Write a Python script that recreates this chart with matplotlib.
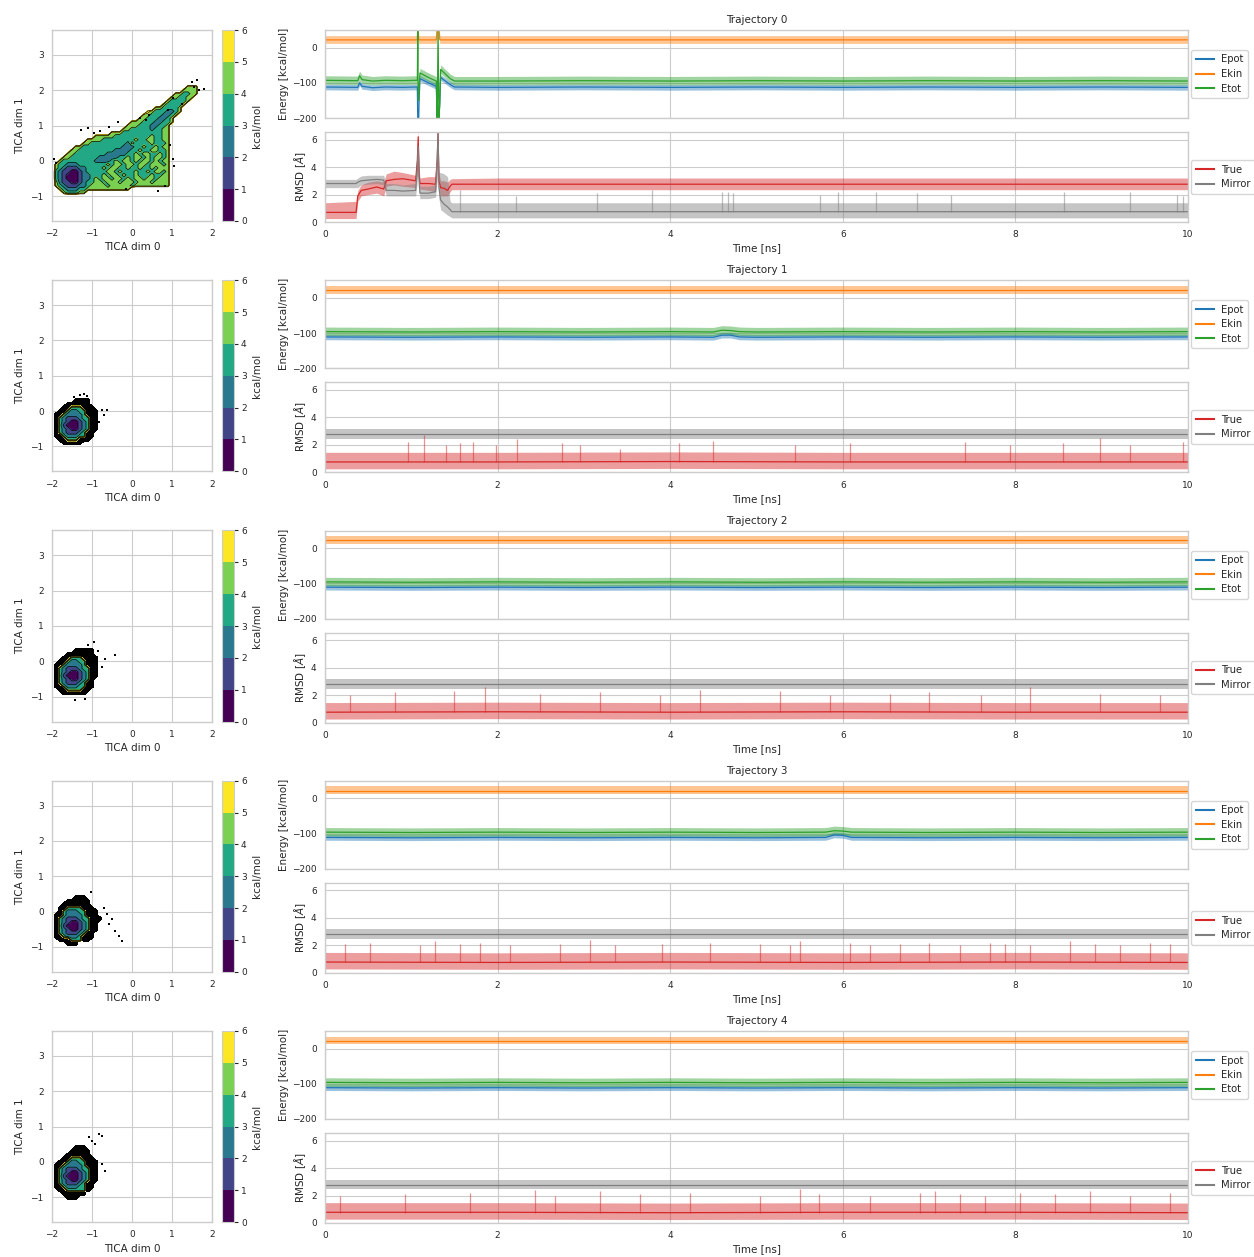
import numpy as np
import matplotlib
matplotlib.use("Agg")
import matplotlib.pyplot as plt
from matplotlib.lines import Line2D

# ============================ DATA ============================
TRAJ_TITLES = ["Trajectory 0", "Trajectory 1", "Trajectory 2", "Trajectory 3", "Trajectory 4"]
ENERGY_NAMES = ["Epot", "Ekin", "Etot"]
RMSD_NAMES = ["True", "Mirror"]
TIME_TICKS = [0, 2, 4, 6, 8, 10]
ENERGY_TICKS = [-200, -100, 0]
RMSD_TICKS = [0, 2, 4, 6]
TICA_XTICKS = [-2, -1, 0, 1, 2]
TICA_YTICKS = [-1, 0, 1, 2, 3]
FE_LEVELS = [0, 1, 2, 3, 4, 5, 6]

# envelope of the raw (light) trace around the smoothed curve
EPOT_BAND = (-8, 8)
EKIN_BAND = (-10, 12)
ETOT_BAND = (-11, 13)
TRUE_BAND = (-0.5, 0.7)
MIRROR_BAND = (-0.35, 0.35)

# ---- Trajectory 0 energies ----
T0_ET = [0, 0.38, 0.40, 0.43, 0.55, 0.7, 0.9, 1.05, 1.07, 1.075, 1.08, 1.085, 1.09, 1.10, 1.2, 1.27,
         1.29, 1.30, 1.31, 1.32, 1.33, 1.34, 1.45, 1.5, 2, 3, 4, 5, 6, 7, 8, 9, 10]
T0_EPOT = [-112, -113, -100, -110, -114, -112, -113, -112, -112, -210, -210, -210, -150, -88, -100, -108,
           -110, -210, -210, -210, -150, -85, -105, -112, -113, -112, -113, -112, -113, -112, -113, -112, -113]
T0_EKIN = [22, 22, 22, 22, 22, 22, 22, 22, 22, 60, 60, 22, 22, 22, 22, 22,
           22, 60, 60, 60, 22, 22, 22, 22, 22, 22, 22, 22, 22, 22, 22, 22, 22]
T0_ETOT = [-93, -94, -80, -91, -95, -93, -94, -93, -93, 50, -150, -150, -120, -72, -85, -93,
           -95, -210, 50, -210, -150, -62, -88, -95, -95, -94, -95, -94, -95, -94, -95, -94, -95]

# ---- Trajectory 0 RMSD ----
T0_RT = [0, 0.36, 0.38, 0.42, 0.5, 0.6, 0.68, 0.71, 0.8, 0.9, 1.05, 1.07, 1.08, 1.09, 1.1, 1.2, 1.28,
         1.30, 1.31, 1.32, 1.34, 1.38, 1.42, 1.45, 1.47, 2, 3, 4, 5, 6, 7, 8, 9, 10]
T0_TRUE = [0.7, 0.7, 1.9, 2.3, 2.4, 2.55, 2.4, 3.0, 3.1, 3.15, 3.0, 4.5, 6.2, 3.5, 2.8, 2.8, 2.75,
           4.5, 6.5, 3.0, 2.5, 2.45, 2.3, 2.6, 2.75, 2.75, 2.75, 2.75, 2.75, 2.75, 2.75, 2.75, 2.75, 2.75]
T0_TRUE_LO = [0.25, 0.25, 1.5, 1.9, 2.0, 2.1, 1.9, 2.6, 2.7, 2.6, 2.5, 3.5, 5.5, 2.8, 2.4, 2.3, 2.2,
              3.5, 5.5, 2.3, 1.9, 1.9, 1.9, 2.2, 2.35, 2.35, 2.35, 2.35, 2.35, 2.35, 2.35, 2.35, 2.35, 2.35]
T0_TRUE_HI = [1.4, 1.5, 2.3, 2.7, 2.9, 3.0, 2.9, 3.5, 3.7, 3.6, 3.4, 5.5, 6.6, 4.0, 3.2, 3.3, 3.3,
              5.5, 6.6, 3.5, 3.0, 3.0, 2.9, 3.1, 3.15, 3.2, 3.2, 3.2, 3.2, 3.2, 3.2, 3.2, 3.2, 3.2]
T0_MIRROR = [2.8, 2.8, 2.9, 3.0, 3.05, 3.1, 3.05, 2.3, 2.3, 2.25, 2.3, 4.0, 5.5, 3.0, 2.1, 2.1, 2.2,
             4.5, 6.5, 2.5, 1.6, 1.3, 1.1, 0.9, 0.75, 0.75, 0.75, 0.75, 0.75, 0.75, 0.75, 0.75, 0.75, 0.75]
T0_MIRROR_LO = [2.5, 2.5, 2.5, 2.7, 2.75, 2.8, 2.7, 1.9, 1.9, 1.9, 1.9, 3.0, 4.5, 2.3, 1.7, 1.7, 1.8,
                3.0, 5.5, 1.7, 0.9, 0.7, 0.5, 0.4, 0.3, 0.3, 0.3, 0.3, 0.3, 0.3, 0.3, 0.3, 0.3, 0.3]
T0_MIRROR_HI = [3.1, 3.1, 3.2, 3.35, 3.4, 3.4, 3.4, 2.8, 2.8, 2.7, 2.8, 5.0, 5.8, 3.5, 2.6, 2.6, 2.7,
                5.5, 6.6, 3.6, 3.6, 3.5, 3.3, 1.5, 1.4, 1.4, 1.4, 1.4, 1.4, 1.4, 1.4, 1.4, 1.4, 1.4]
T0_MIRROR_SPIKE_T = [1.56, 2.21, 3.15, 3.79, 4.60, 4.67, 4.73, 5.74, 5.95, 6.39, 6.86, 7.25, 8.56, 9.33, 9.87, 9.94]
T0_MIRROR_SPIKE_H = [2.3, 1.9, 2.1, 2.3, 2.2, 2.2, 2.1, 2.0, 2.2, 2.2, 2.1, 2.0, 2.2, 2.2, 2.0, 1.9]
T0_MIRROR_SPIKE_BASE = 0.75

# ---- Trajectory 1 ----
T1_ET = [0, 1, 2, 3, 4, 4.5, 4.6, 4.7, 4.8, 5, 6, 7, 8, 9, 10]
T1_EPOT = [-111, -112, -111, -112, -111, -112, -106, -106, -111, -112, -111, -112, -111, -112, -111]
T1_EKIN = [22, 22, 22, 22, 22, 22, 22, 22, 22, 22, 22, 22, 22, 22, 22]
T1_ETOT = [-96, -97, -96, -97, -96, -97, -92, -93, -96, -97, -96, -97, -96, -97, -96]
T1_RT = [0, 2, 4, 6, 8, 10]
T1_TRUE = [0.75, 0.75, 0.78, 0.75, 0.75, 0.75]
T1_MIRROR = [2.8, 2.8, 2.8, 2.8, 2.8, 2.8]
T1_SPIKE_T = [0.96, 1.15, 1.40, 1.56, 1.71, 1.98, 2.23, 2.75, 2.96, 3.42, 4.10, 4.50, 5.45, 6.08, 7.42, 7.94, 8.55, 8.98, 9.33, 9.94]
T1_SPIKE_H = [2.2, 2.7, 2.0, 2.1, 2.2, 2.0, 2.4, 2.1, 2.0, 1.7, 2.1, 2.3, 2.0, 2.1, 2.2, 2.0, 2.1, 2.5, 2.0, 2.2]

# ---- Trajectory 2 ----
T2_ET = [0, 1, 2, 3, 4, 5, 6, 7, 8, 9, 10]
T2_EPOT = [-111, -112, -111, -112, -111, -112, -111, -112, -111, -112, -111]
T2_EKIN = [22, 22, 22, 22, 22, 22, 22, 22, 22, 22, 22]
T2_ETOT = [-96, -97, -96, -97, -96, -97, -96, -97, -96, -97, -96]
T2_RT = [0, 2, 4, 6, 8, 10]
T2_TRUE = [0.75, 0.78, 0.75, 0.78, 0.75, 0.75]
T2_MIRROR = [2.8, 2.8, 2.8, 2.8, 2.8, 2.8]
T2_SPIKE_T = [0.29, 0.81, 1.50, 1.85, 2.49, 3.19, 3.88, 4.35, 5.27, 5.85, 6.55, 7.00, 7.60, 8.17, 8.98, 9.68]
T2_SPIKE_H = [2.0, 2.2, 2.3, 2.6, 2.1, 2.2, 2.0, 2.4, 2.3, 2.0, 2.1, 2.2, 2.0, 2.6, 2.1, 2.0]

# ---- Trajectory 3 ----
T3_ET = [0, 1, 2, 3, 4, 5, 5.8, 5.9, 6.0, 6.1, 7, 8, 9, 10]
T3_EPOT = [-111, -112, -111, -112, -111, -112, -111, -104, -105, -111, -112, -111, -112, -111]
T3_EKIN = [22, 22, 22, 22, 22, 22, 22, 22, 22, 22, 22, 22, 22, 22]
T3_ETOT = [-96, -97, -96, -97, -96, -97, -96, -92, -93, -96, -97, -96, -97, -96]
T3_RT = [0, 2, 4, 6, 8, 10]
T3_TRUE = [0.78, 0.75, 0.78, 0.75, 0.78, 0.75]
T3_MIRROR = [2.8, 2.8, 2.8, 2.8, 2.8, 2.8]
T3_SPIKE_T = [0.23, 0.52, 1.10, 1.27, 1.56, 1.80, 2.14, 2.72, 3.07, 3.36, 3.90, 4.46, 5.04, 5.39, 5.50, 6.08,
              6.31, 6.66, 7.00, 7.36, 7.70, 7.88, 8.17, 8.63, 8.92, 9.21, 9.56, 9.79]
T3_SPIKE_H = [2.1, 2.2, 2.0, 2.3, 2.1, 2.2, 2.0, 2.1, 2.4, 2.0, 2.1, 2.2, 2.1, 2.0, 2.3, 2.2,
              2.0, 2.1, 2.2, 2.0, 2.2, 2.1, 2.0, 2.3, 2.1, 2.0, 2.2, 2.1]

# ---- Trajectory 4 ----
T4_ET = [0, 1, 2, 3, 4, 5, 6, 7, 8, 9, 10]
T4_EPOT = [-111, -112, -111, -112, -111, -112, -111, -112, -111, -112, -111]
T4_EKIN = [22, 22, 22, 22, 22, 22, 22, 22, 22, 22, 22]
T4_ETOT = [-96, -97, -96, -97, -96, -97, -96, -97, -96, -97, -96]
T4_RT = [0, 2, 4, 6, 8, 10]
T4_TRUE = [0.78, 0.78, 0.75, 0.78, 0.78, 0.75]
T4_MIRROR = [2.8, 2.8, 2.8, 2.8, 2.8, 2.8]
T4_SPIKE_T = [0.17, 0.93, 1.68, 2.43, 2.66, 3.19, 3.65, 4.23, 5.04, 5.50, 5.73, 6.31, 6.90, 7.07, 7.36,
              7.65, 8.05, 8.46, 8.86, 9.33, 9.79]
T4_SPIKE_H = [2.0, 2.1, 2.2, 2.4, 2.0, 2.3, 2.1, 2.2, 2.0, 2.5, 2.1, 2.0, 2.2, 2.3, 2.1,
              2.0, 2.2, 2.1, 2.3, 2.0, 2.2]

# ---- Free-energy maps (TICA), 0.1 grid; digit = kcal/mol bin, '#' = dense noisy points ----
FE0_X0, FE0_YTOP = -2.0, 2.2
FE0_ROWS = [  # (first column, bins) from y=2.2 down to y=-1.0
    (0, ""), (34, "444"), (33, "4444"), (31, "443344"), (30, "443344"), (29, "433334"),
    (28, "433334"), (26, "4433334"), (24, "543332234"), (23, "443332234"), (22, "443332234"),
    (20, "44433322334"), (19, "44433322334"), (18, "443333323344"), (15, "444333333333344"),
    (11, "4444433333333343344"), (9, "444433333333433443344"), (8, "4433333333324333343334"),
    (6, "443333333333222334334344"), (5, "4433333333322223343344334"),
    (4, "44333333332222233434433434"), (3, "443333333222223343443434434"),
    (2, "4333333332222343443434434344"), (1, "43322233333334344344344344434"),
    (1, "43211122333343443343343343444"), (1, "32110012333334434333433434434"),
    (1, "32100012233343443433433343344"), (1, "32100012234344344343443443444"),
    (1, "42110012334434443444344434444"), (1, "43211122344443444443444444444"),
    (2, "432223344444444444"), (3, "433344"), (0, ""),
]
# isolated sampled points outside the contoured region
FE0_DOTS_X = [1.50, 1.68, 1.80, 1.62, 1.02, 0.89, 0.43, 0.20, -0.36, -0.57, -1.28, -1.11, -0.95,
              -1.94, -1.90, 1.02, 1.06, 0.82, 0.64, -0.15, 0.35, 1.25, 1.55, -0.80, 0.95]
FE0_DOTS_Y = [2.22, 2.00, 2.02, 2.30, 1.77, 1.44, 1.30, 1.20, 1.11, 0.97, 0.88, 0.93, 0.80,
              0.04, -0.06, 0.04, -0.15, -0.71, -0.85, -0.80, 1.15, 1.62, 2.08, 0.85, 0.45]
FE_SMALL_X0, FE_SMALL_YTOP = -2.0, 0.4
FE1_ROWS = [
    ".............", "......####...", "....######...", "...##333###..", "..##32233###.",
    ".##322223###.", ".#32111233##.", ".#32100123##.", ".#31000123##.", ".#32100123##.",
    ".#3211123##..", ".##322233##..", "..##333###...", "...#####.....", ".............",
]
FE1_DOTS_X = [-1.30, -1.20, -1.12, -0.75, -0.71, -0.62, -0.83, -1.45]
FE1_DOTS_Y = [0.45, 0.48, 0.42, 0.03, -0.11, 0.03, -0.30, 0.40]
FE2_ROWS = [
    ".............", "......#####..", "....#######..", "...##333####.", "..##32233###.",
    ".##322223###.", ".#32111233##.", ".#32100123##.", ".#31000123##.", ".#32100123#..",
    ".#3211123##..", ".##322233##..", "..##3333##...", "...######....", ".............",
]
FE2_DOTS_X = [-0.96, -0.42, -0.67, -0.75, -1.42, -1.17, -1.10, -0.85]
FE2_DOTS_Y = [0.55, 0.17, 0.08, -0.16, -1.10, -1.06, 0.45, 0.30]
FE3_ROWS = [
    "......###....", "....######...", "...#######...", "..##3333###..", "..#322233###.",
    ".##322223###.", ".#32111233###", ".#32100123##.", ".#31000123##.", ".#32100123##.",
    ".#3211123##..", ".##32223###..", "..###333##...", "....###......", ".............",
]
FE3_DOTS_X = [-1.02, -0.62, -0.50, -0.42, -0.33, -0.25, -0.70, -0.58]
FE3_DOTS_Y = [0.55, -0.07, -0.21, -0.54, -0.68, -0.82, 0.10, -0.35]
FE4_ROWS = [
    "......###....", ".....#####...", "....######...", "...##333###..", "..##32233###.",
    ".##322223###.", ".#32111233##.", ".#32100123##.", ".#31000123##.", ".#32100123##.",
    ".#3211123##..", ".##322233##..", "..##33333#...", "...######....", "....###......",
]
FE4_DOTS_X = [-0.75, -0.83, -1.00, -0.67, -0.75, -0.92, -1.08]
FE4_DOTS_Y = [0.74, 0.78, 0.60, -0.25, -0.07, 0.50, 0.70]

# ============================ STYLE ============================
W, H = 1254, 1257
TXT = "#262626"
GRID = "#cccccc"
plt.rcParams.update({
    "font.family": ["DejaVu Sans"],
    "font.size": 7.5,
    "text.color": TXT,
    "axes.labelcolor": TXT,
    "xtick.color": TXT,
    "ytick.color": TXT,
    "axes.edgecolor": GRID,
    "axes.linewidth": 1.0,
    "grid.color": GRID,
    "grid.linewidth": 0.8,
    "xtick.major.size": 0,
    "ytick.major.size": 0,
    "xtick.major.pad": 6.0,
    "ytick.major.pad": 6.0,
    "xtick.labelsize": 6.5,
    "ytick.labelsize": 6.5,
    "axes.labelsize": 7.5,
    "axes.titlesize": 7.5,
    "legend.fontsize": 7.2,
    "mathtext.fontset": "dejavusans",
})

COL = {"Epot": "#1f77b4", "Ekin": "#ff7f0e", "Etot": "#2ca02c", "True": "#d62728", "Mirror": "#7f7f7f"}

fig = plt.figure(figsize=(W / 100, H / 100), dpi=100)
ROW_DY = 250.25
FE_NORM = plt.Normalize(0.5, 5.5)
STEP = 0.1


def rect(l, t, r, b):
    return [l / W, 1 - b / H, (r - l) / W, (b - t) / H]


def style(ax):
    ax.set_axisbelow(True)
    ax.grid(True)
    for s in ax.spines.values():
        s.set_color(GRID)


def build_fe(rows, x0, ytop, gx0, gx1, gy0, gy1):
    nx = int(round((gx1 - gx0) / STEP)) + 1
    ny = int(round((gy1 - gy0) / STEP)) + 1
    xs = gx0 + STEP * np.arange(nx)
    ys = gy1 - STEP * np.arange(ny)
    Z = np.full((ny, nx), 9.0)
    B = np.zeros((ny, nx))
    for i, r in enumerate(rows):
        s = "." * r[0] + r[1] if isinstance(r, tuple) else r
        iy = int(round((gy1 - (ytop - STEP * i)) / STEP))
        for j, c in enumerate(s):
            jx = int(round((x0 + STEP * j - gx0) / STEP))
            if c.isdigit():
                Z[iy, jx] = int(c) + 0.5
            elif c == "#":
                B[iy, jx] = 1.0
    return xs, ys, Z, B


def draw_fe(ax, cax, grid, dots_x, dots_y):
    xs, ys, Z, B = grid
    X, Y = np.meshgrid(xs, ys)
    if B.any():
        ax.contourf(X, Y, B, levels=[0.5, 1.5], colors="k", zorder=1)
    cs = ax.contourf(X, Y, Z, levels=FE_LEVELS, cmap="viridis", norm=FE_NORM, zorder=2)
    ax.contour(X, Y, Z, levels=FE_LEVELS, colors="k", linewidths=0.5, zorder=3)
    ax.scatter(dots_x, dots_y, s=1.6, c="k", marker="s", linewidths=0, zorder=3)
    ax.set_xlim(-2, 2)
    ax.set_ylim(-1.7, 3.7)
    ax.set_xticks(TICA_XTICKS)
    ax.set_yticks(TICA_YTICKS)
    ax.set_xlabel("TICA dim 0", labelpad=3)
    ax.set_ylabel("TICA dim 1", labelpad=4)
    cb = fig.colorbar(cs, cax=cax, ticks=FE_LEVELS)
    cb.outline.set_edgecolor(GRID)
    cb.outline.set_linewidth(0.8)
    cax.tick_params(length=3, width=0.8, pad=2, color=TXT, labelsize=6.5)
    cb.set_label("kcal/mol", labelpad=4)


def band_series(ax, t, v, color, band=None, lo=None, hi=None):
    v = np.asarray(v, float)
    lo_v = v + band[0] if lo is None else np.asarray(lo, float)
    hi_v = v + band[1] if hi is None else np.asarray(hi, float)
    ax.fill_between(t, lo_v, hi_v, color=color, alpha=0.45, linewidth=0)
    ax.plot(t, v, color=color, lw=0.9)


def make_legend(ax, names):
    ax.legend([Line2D([], [], color=COL[n], lw=1.5) for n in names], names,
              loc="center left", bbox_to_anchor=(1.004, 0.5), borderaxespad=0,
              frameon=True, edgecolor=GRID, handlelength=1.8, handletextpad=0.7,
              labelspacing=0.45, borderpad=0.45)


FE_PANELS = [
    (build_fe(FE0_ROWS, FE0_X0, FE0_YTOP, -2.0, 2.0, -1.2, 2.4), FE0_DOTS_X, FE0_DOTS_Y),
    (build_fe(FE1_ROWS, FE_SMALL_X0, FE_SMALL_YTOP, -2.0, 0.0, -1.3, 0.9), FE1_DOTS_X, FE1_DOTS_Y),
    (build_fe(FE2_ROWS, FE_SMALL_X0, FE_SMALL_YTOP, -2.0, 0.0, -1.3, 0.9), FE2_DOTS_X, FE2_DOTS_Y),
    (build_fe(FE3_ROWS, FE_SMALL_X0, FE_SMALL_YTOP, -2.0, 0.0, -1.3, 0.9), FE3_DOTS_X, FE3_DOTS_Y),
    (build_fe(FE4_ROWS, FE_SMALL_X0, FE_SMALL_YTOP, -2.0, 0.0, -1.3, 0.9), FE4_DOTS_X, FE4_DOTS_Y),
]

TRAJ = [
    dict(et=T0_ET, epot=T0_EPOT, ekin=T0_EKIN, etot=T0_ETOT, rt=T0_RT,
         true=T0_TRUE, true_lo=T0_TRUE_LO, true_hi=T0_TRUE_HI,
         mirror=T0_MIRROR, mirror_lo=T0_MIRROR_LO, mirror_hi=T0_MIRROR_HI,
         spikes=("Mirror", T0_MIRROR_SPIKE_T, T0_MIRROR_SPIKE_H, T0_MIRROR_SPIKE_BASE)),
    dict(et=T1_ET, epot=T1_EPOT, ekin=T1_EKIN, etot=T1_ETOT, rt=T1_RT, true=T1_TRUE, mirror=T1_MIRROR,
         spikes=("True", T1_SPIKE_T, T1_SPIKE_H, 0.75)),
    dict(et=T2_ET, epot=T2_EPOT, ekin=T2_EKIN, etot=T2_ETOT, rt=T2_RT, true=T2_TRUE, mirror=T2_MIRROR,
         spikes=("True", T2_SPIKE_T, T2_SPIKE_H, 0.75)),
    dict(et=T3_ET, epot=T3_EPOT, ekin=T3_EKIN, etot=T3_ETOT, rt=T3_RT, true=T3_TRUE, mirror=T3_MIRROR,
         spikes=("True", T3_SPIKE_T, T3_SPIKE_H, 0.75)),
    dict(et=T4_ET, epot=T4_EPOT, ekin=T4_EKIN, etot=T4_ETOT, rt=T4_RT, true=T4_TRUE, mirror=T4_MIRROR,
         spikes=("True", T4_SPIKE_T, T4_SPIKE_H, 0.75)),
]

for r, d in enumerate(TRAJ):
    dy = r * ROW_DY
    ax_f = fig.add_axes(rect(52, 30 + dy, 212, 221 + dy))
    cax = fig.add_axes(rect(222, 30 + dy, 234, 221 + dy))
    ax_e = fig.add_axes(rect(325, 30 + dy, 1188, 118 + dy))
    ax_r = fig.add_axes(rect(325, 132 + dy, 1188, 222 + dy))
    for a in (ax_f, ax_e, ax_r):
        style(a)

    draw_fe(ax_f, cax, *FE_PANELS[r])

    # energies
    band_series(ax_e, d["et"], d["epot"], COL["Epot"], EPOT_BAND)
    band_series(ax_e, d["et"], d["ekin"], COL["Ekin"], EKIN_BAND)
    band_series(ax_e, d["et"], d["etot"], COL["Etot"], ETOT_BAND)
    ax_e.set_xlim(0, 10)
    ax_e.set_ylim(-200, 50)
    ax_e.set_xticks(TIME_TICKS)
    ax_e.set_xticklabels([])
    ax_e.set_yticks(ENERGY_TICKS)
    ax_e.set_ylabel("Energy [kcal/mol]", labelpad=2)
    ax_e.set_title(TRAJ_TITLES[r], pad=5)
    make_legend(ax_e, ENERGY_NAMES)

    # RMSD
    band_series(ax_r, d["rt"], d["true"], COL["True"], TRUE_BAND, d.get("true_lo"), d.get("true_hi"))
    band_series(ax_r, d["rt"], d["mirror"], COL["Mirror"], MIRROR_BAND, d.get("mirror_lo"), d.get("mirror_hi"))
    sname, st, sh, sb = d["spikes"]
    ax_r.vlines(st, sb, sh, colors=COL[sname], alpha=0.5, lw=0.9)
    ax_r.set_xlim(0, 10)
    ax_r.set_ylim(0, 6.55)
    ax_r.set_xticks(TIME_TICKS)
    ax_r.set_yticks(RMSD_TICKS)
    ax_r.set_xlabel("Time [ns]", labelpad=3)
    ax_r.set_ylabel(r"RMSD [$\AA$]", labelpad=2)
    make_legend(ax_r, RMSD_NAMES)

fig.savefig("out.png", dpi=100)
